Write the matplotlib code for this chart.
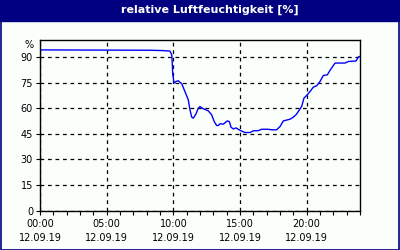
import matplotlib
matplotlib.use('Agg')
import matplotlib.pyplot as plt
import matplotlib.transforms as mtransforms
from matplotlib.ticker import MultipleLocator

# humidity trace, hours since 00:00 on 12.09.19
hours = [0.0, 8.25, 9.2, 9.75, 9.88, 9.92, 9.95, 10.05, 10.2, 10.37, 10.63,
         10.87, 11.12, 11.25, 11.38, 11.5, 11.7, 11.87, 12.0, 12.25, 12.62,
         12.87, 13.07, 13.25, 13.37, 13.5, 13.75, 14.05, 14.2, 14.33, 14.5,
         14.7, 14.87, 15.05, 15.37, 15.75, 15.9, 16.0, 16.37, 16.62, 17.12,
         17.38, 17.75, 18.0, 18.25, 18.55, 18.75, 19.0, 19.2, 19.37, 19.62,
         19.8, 20.0, 20.25, 20.5, 20.75, 21.0, 21.25, 21.55, 21.75, 21.95,
         22.13, 22.88, 23.12, 23.7, 23.87, 23.95]
humidity = [94.2, 94.0, 93.8, 93.5, 91.4, 86.5, 80.6, 74.8, 75.7, 76.1, 74.4,
            69.8, 65.0, 59.1, 54.8, 54.2, 56.7, 60.1, 61.0, 59.7, 58.5,
            56.2, 52.2, 49.9, 49.9, 50.9, 50.7, 52.6, 52.2, 48.9, 47.9,
            48.5, 47.7, 46.9, 45.8, 45.8, 46.4, 46.8, 46.9, 47.7, 47.7,
            47.4, 47.4, 49.3, 52.6, 53.2, 53.6, 54.8, 56.2, 58.1, 61.0,
            66.0, 67.5, 69.8, 72.4, 73.2, 75.7, 79.2, 79.6, 82.2, 84.5,
            86.5, 86.5, 87.4, 87.7, 90.0, 90.3]

x_ticks = [0, 5, 10, 15, 20]
x_labels = ['00:00', '05:00', '10:00', '15:00', '20:00']
date_label = '12.09.19'
y_ticks = [0, 15, 30, 45, 60, 75, 90]
unit_label = '%'
title = 'relative Luftfeuchtigkeit [%]'

navy = '#000080'
bg = '#fbfffb'

fig = plt.figure(figsize=(4.0, 2.5), dpi=100, facecolor=bg)

# title bar and frame
fig.patches.append(plt.Rectangle((0, 1 - 20.5 / 250), 1, 20.5 / 250,
                                 transform=fig.transFigure, color=navy,
                                 zorder=0))
fig.patches.append(plt.Rectangle((0.5 / 400, 0.5 / 250), 1 - 1.5 / 400,
                                 1 - 1.5 / 250, transform=fig.transFigure,
                                 fill=False, edgecolor=navy, lw=1.2, zorder=0))
fig.text(0.525, 1 - 10 / 250, title, color='white', fontsize=8,
         fontweight='bold', ha='center', va='center')

ax = fig.add_axes([40 / 400, 39.3 / 250, 320 / 400, 170.7 / 250])
ax.set_facecolor(bg)
ax.plot(hours, humidity, color='#0000ff', lw=1.0)

ax.set_xlim(0, 24)
ax.set_ylim(0, 100)
ax.set_xticks(x_ticks)
ax.set_xticklabels([t + '\n' + date_label for t in x_labels],
                   linespacing=1.55)
ax.xaxis.set_minor_locator(MultipleLocator(1))
ax.set_yticks(y_ticks)

# unit label sits just under the top of the y axis
trans = mtransforms.blended_transform_factory(ax.transAxes, ax.transData)
ax.text(-0.02, 97, unit_label, transform=trans, ha='right', va='center',
        fontsize=7)

ax.set_axisbelow(True)
ax.grid(True, color='black', linestyle=(0, (3, 3)), lw=0.9)
ax.tick_params(axis='both', which='both', direction='out', length=3,
               width=0.8, labelsize=7, pad=2, colors='black')
ax.tick_params(axis='x', pad=3)
for s in ax.spines.values():
    s.set_linewidth(1.0)

fig.savefig('out.png', dpi=100, facecolor=bg)
